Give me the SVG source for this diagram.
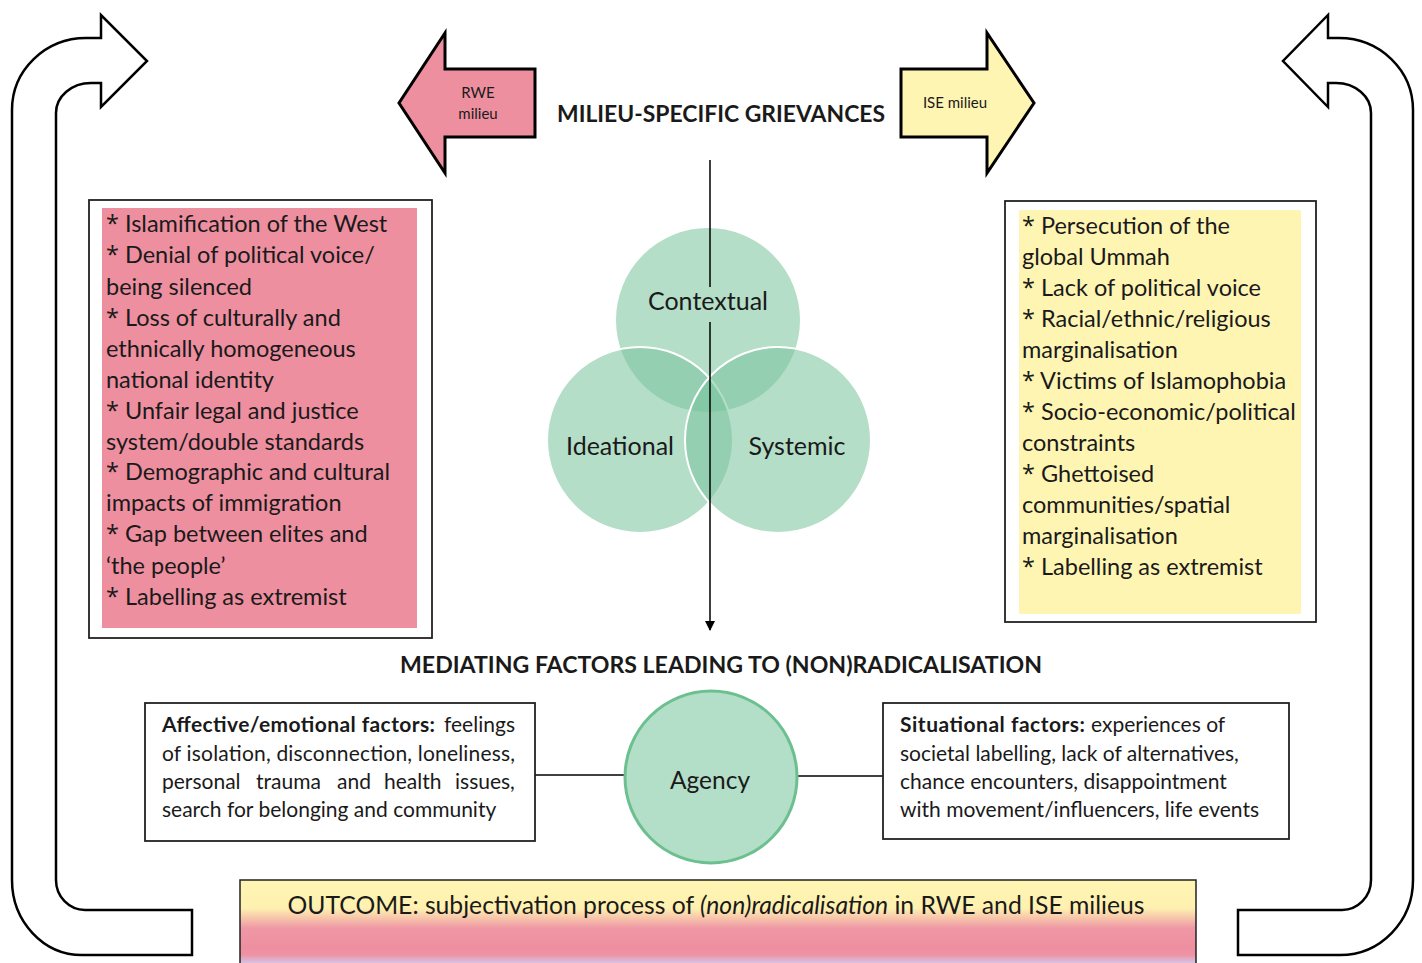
<svg xmlns="http://www.w3.org/2000/svg" width="1422" height="963" viewBox="0 0 1422 963">
<defs>
<style>
text{font-family:Lato,"Open Sans","Liberation Sans",sans-serif;fill:#1a1a1a}
.uarrow{fill:#fff;stroke:#000;stroke-width:2.5;stroke-linejoin:miter}
.bigarrow{stroke:#000;stroke-width:3}
.box{fill:#fff;stroke:#222;stroke-width:1.8}
.list{font-size:23.5px}
.ast{font-family:"Open Sans","DejaVu Sans",sans-serif}
.fac{font-size:21px}
.venn{fill:#79C49D;fill-opacity:0.56;stroke:#fff;stroke-width:2}
.vt{font-size:25px;text-anchor:middle}
.hd{font-size:23px;font-weight:bold;text-anchor:middle}
.conn{stroke:#000;stroke-width:1.5;fill:none}
</style>
<linearGradient id="outg" gradientUnits="userSpaceOnUse" x1="0" y1="880" x2="0" y2="963">
<stop offset="0" stop-color="#FFF5B3"/>
<stop offset="0.34" stop-color="#FFF1B0"/>
<stop offset="0.58" stop-color="#EF98A5"/>
<stop offset="0.8" stop-color="#EE8FA0"/>
<stop offset="0.9" stop-color="#EE92A4"/>
<stop offset="1" stop-color="#D6C2E4"/>
</linearGradient>
<marker id="ah" viewBox="0 0 10 10" refX="9" refY="5" markerWidth="10" markerHeight="10" markerUnits="userSpaceOnUse" orient="auto">
<path d="M0,0 L10,5 L0,10 Z" fill="#000"/>
</marker>
</defs>

<g id="loop-left">
<path class="uarrow" d="M192,955 L82,955 A70,75 0 0 1 12,880 L12,110 A74,72 0 0 1 86,38 L101,38 L101,15 L147,61 L101,107 L101,83 L91,83 A35,30 0 0 0 56,113 L56,880 A29,30 0 0 0 85,910 L192,910 Z"/>
</g>
<g id="loop-right">
<path class="uarrow" d="M1238,955 L1340,955 A73,75 0 0 0 1413,880 L1413,110 A74,72 0 0 0 1339,38 L1328,38 L1328,15 L1283,61 L1328,107 L1328,83 L1336,83 A35,30 0 0 1 1371,113 L1371,880 A29,30 0 0 1 1342,910 L1238,910 Z"/>
</g>

<g id="rwe-arrow">
<path class="bigarrow" fill="#EE8FA0" d="M535,69 L445,69 L445,33 L399,103 L445,173 L445,137 L535,137 Z"/>
<text x="478" y="98" font-size="15" text-anchor="middle">RWE</text>
<text x="478" y="119" font-size="15" text-anchor="middle">milieu</text>
</g>
<g id="ise-arrow">
<path class="bigarrow" fill="#FFF5B3" d="M901,69 L987,69 L987,33 L1034,103 L987,173 L987,137 L901,137 Z"/>
<text x="955" y="108" font-size="15" text-anchor="middle">ISE milieu</text>
</g>

<g id="title-grievances">
<text class="hd" x="721" y="122" textLength="328" lengthAdjust="spacingAndGlyphs">MILIEU-SPECIFIC GRIEVANCES</text>
</g>

<g id="rwe-grievances">
<rect class="box" x="89" y="200" width="343" height="438"/>
<rect x="102" y="208" width="315" height="420" fill="#EE8FA0"/>
<text class="list">
<tspan x="106" y="232"><tspan class="ast">*</tspan> Islamification of the West</tspan>
<tspan x="106" y="263"><tspan class="ast">*</tspan> Denial of political voice/</tspan>
<tspan x="106" y="295">being silenced</tspan>
<tspan x="106" y="326"><tspan class="ast">*</tspan> Loss of culturally and</tspan>
<tspan x="106" y="357">ethnically homogeneous</tspan>
<tspan x="106" y="388">national identity</tspan>
<tspan x="106" y="419"><tspan class="ast">*</tspan> Unfair legal and justice</tspan>
<tspan x="106" y="450">system/double standards</tspan>
<tspan x="106" y="480"><tspan class="ast">*</tspan> Demographic and cultural</tspan>
<tspan x="106" y="511">impacts of immigration</tspan>
<tspan x="106" y="542"><tspan class="ast">*</tspan> Gap between elites and</tspan>
<tspan x="106" y="574">‘the people’</tspan>
<tspan x="106" y="605"><tspan class="ast">*</tspan> Labelling as extremist</tspan>
</text>
</g>

<g id="ise-grievances">
<rect class="box" x="1005" y="201" width="311" height="421"/>
<rect x="1019" y="210" width="282" height="404" fill="#FFF5B3"/>
<text class="list">
<tspan x="1022" y="234"><tspan class="ast">*</tspan> Persecution of the</tspan>
<tspan x="1022" y="265">global Ummah</tspan>
<tspan x="1022" y="296"><tspan class="ast">*</tspan> Lack of political voice</tspan>
<tspan x="1022" y="327"><tspan class="ast">*</tspan> Racial/ethnic/religious</tspan>
<tspan x="1022" y="358">marginalisation</tspan>
<tspan x="1022" y="389"><tspan class="ast">*</tspan> Victims of Islamophobia</tspan>
<tspan x="1022" y="420"><tspan class="ast">*</tspan> Socio-economic/political</tspan>
<tspan x="1022" y="451">constraints</tspan>
<tspan x="1022" y="482"><tspan class="ast">*</tspan> Ghettoised</tspan>
<tspan x="1022" y="513">communities/spatial</tspan>
<tspan x="1022" y="544">marginalisation</tspan>
<tspan x="1022" y="575"><tspan class="ast">*</tspan> Labelling as extremist</tspan>
</text>
</g>

<g id="venn">
<circle class="venn" cx="708" cy="320" r="93"/>
<circle class="venn" cx="640" cy="440" r="93"/>
<circle class="venn" cx="778" cy="440" r="93"/>
</g>

<g id="connectors">
<line class="conn" x1="710" y1="160" x2="710" y2="287"/>
<line class="conn" x1="710" y1="322" x2="710" y2="630" marker-end="url(#ah)"/>
<line class="conn" x1="535" y1="775" x2="624" y2="775"/>
<line class="conn" x1="798" y1="776" x2="883" y2="776"/>
</g>

<g id="venn-labels">
<text class="vt" x="708" y="310">Contextual</text>
<text class="vt" x="620" y="455">Ideational</text>
<text class="vt" x="797" y="455">Systemic</text>
</g>

<g id="title-mediating">
<text class="hd" x="721" y="673" textLength="642" lengthAdjust="spacingAndGlyphs">MEDIATING FACTORS LEADING TO (NON)RADICALISATION</text>
</g>

<g id="affective">
<rect class="box" x="145" y="703" width="390" height="138"/>
<text class="fac"><tspan x="162" y="732" font-weight="bold" textLength="273" lengthAdjust="spacing">Affective/emotional factors:</tspan><tspan x="444" y="732" textLength="71" lengthAdjust="spacing">feelings</tspan></text>
<text class="fac" x="162" y="761" textLength="353" lengthAdjust="spacing">of isolation, disconnection, loneliness,</text>
<text class="fac"><tspan x="162" y="789">personal</tspan><tspan x="256" y="789">trauma</tspan><tspan x="337" y="789">and</tspan><tspan x="384" y="789">health</tspan><tspan x="455" y="789">issues,</tspan></text>
<text class="fac" x="162" y="817">search for belonging and community</text>
</g>

<g id="agency">
<circle cx="711" cy="777" r="86" fill="#B3DEC8" stroke="#6CC08F" stroke-width="3"/>
<text x="710" y="789" font-size="24.5" text-anchor="middle">Agency</text>
</g>

<g id="situational">
<rect class="box" x="883" y="703" width="406" height="136"/>
<text class="fac"><tspan x="900" y="732" font-weight="bold" textLength="185" lengthAdjust="spacing">Situational factors:</tspan><tspan x="1091" y="732">experiences of</tspan></text>
<text class="fac" x="900" y="761">societal labelling, lack of alternatives,</text>
<text class="fac" x="900" y="789">chance encounters, disappointment</text>
<text class="fac" x="900" y="817">with movement/influencers, life events</text>
</g>

<g id="outcome">
<rect x="240" y="880" width="956" height="86" fill="url(#outg)" stroke="#222" stroke-width="1.5"/>
<text x="716" y="914" font-size="24.5" text-anchor="middle" textLength="857" lengthAdjust="spacingAndGlyphs">OUTCOME: subjectivation process of <tspan font-style="italic">(non)radicalisation</tspan> in RWE and ISE milieus</text>
</g>
</svg>
